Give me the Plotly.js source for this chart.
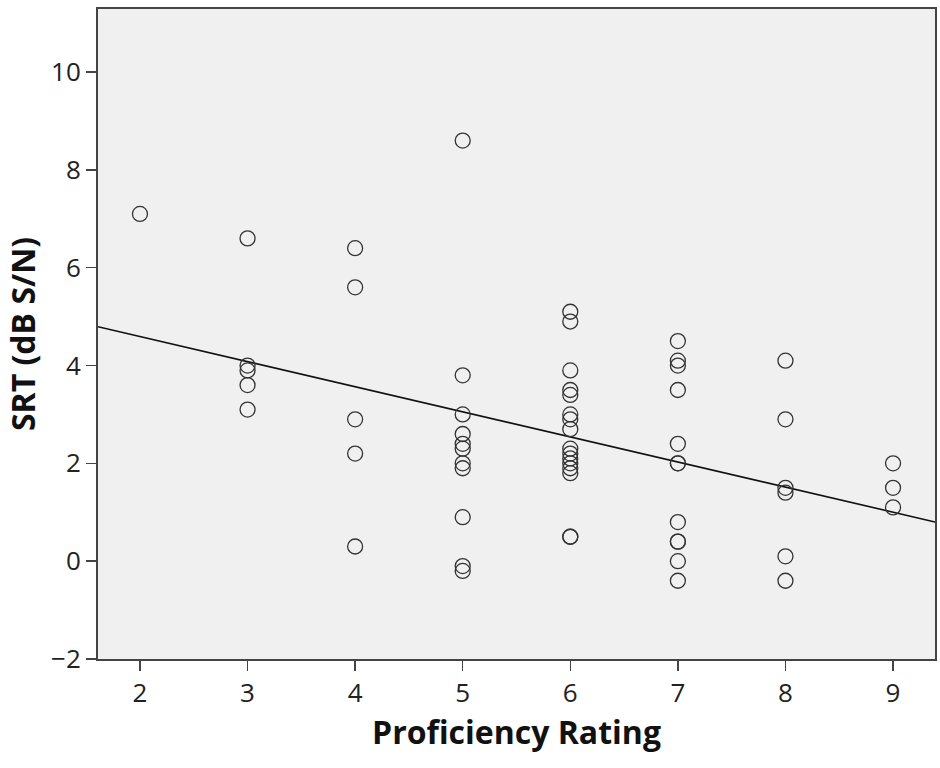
<!DOCTYPE html>
<html>
<head>
<meta charset="utf-8">
<script src="https://cdn.plot.ly/plotly-3.0.1.min.js"></script>
<style>
  html, body { margin: 0; padding: 0; background: #ffffff; }
  #chart { width: 940px; height: 768px; }
</style>
</head>
<body>
<div id="chart"></div>
<script>
// Proficiency rating (x) and SRT in dB S/N (y), one entry per participant
const proficiency = [
  2,
  3, 3, 3, 3, 3,
  4, 4, 4, 4, 4,
  5, 5, 5, 5, 5, 5, 5, 5, 5, 5, 5,
  6, 6, 6, 6, 6, 6, 6, 6, 6, 6, 6, 6, 6, 6, 6, 6,
  7, 7, 7, 7, 7, 7, 7, 7, 7, 7, 7, 7,
  8, 8, 8, 8, 8, 8,
  9, 9, 9
];
const srt = [
  7.1,
  6.6, 4.0, 3.9, 3.6, 3.1,
  6.4, 5.6, 2.9, 2.2, 0.3,
  8.6, 3.8, 3.0, 2.6, 2.4, 2.3, 2.0, 1.9, 0.9, -0.1, -0.2,
  5.1, 4.9, 3.9, 3.5, 3.4, 3.0, 2.9, 2.7, 2.3, 2.2, 2.1, 2.0, 1.9, 1.8, 0.5, 0.5,
  4.5, 4.1, 4.0, 3.5, 2.4, 2.0, 2.0, 0.8, 0.4, 0.4, 0.0, -0.4,
  4.1, 2.9, 1.5, 1.4, 0.1, -0.4,
  2.0, 1.5, 1.1
];
const xTickVals = [2, 3, 4, 5, 6, 7, 8, 9];
const yTickVals = [-2, 0, 2, 4, 6, 8, 10];
const xRange = [1.61, 9.39];
const yRange = [-2, 11.29];

// Least-squares fit line computed from the data
const n = proficiency.length;
const mx = proficiency.reduce((a, b) => a + b, 0) / n;
const my = srt.reduce((a, b) => a + b, 0) / n;
let sxy = 0, sxx = 0;
for (let i = 0; i < n; i++) {
  sxy += (proficiency[i] - mx) * (srt[i] - my);
  sxx += (proficiency[i] - mx) * (proficiency[i] - mx);
}
const slope = sxy / sxx;
const intercept = my - slope * mx;
const fitX = xRange.slice();
const fitY = fitX.map(v => intercept + slope * v);

const FONT = '"Open Sans", "DejaVu Sans", sans-serif';

const traces = [
  {
    type: 'scatter',
    mode: 'lines',
    x: fitX,
    y: fitY,
    line: { color: '#111111', width: 1.6 },
    hoverinfo: 'skip',
    showlegend: false
  },
  {
    type: 'scatter',
    mode: 'markers',
    x: proficiency,
    y: srt,
    marker: {
      symbol: 'circle-open',
      size: 15,
      color: '#333333',
      line: { color: '#333333', width: 1.3 }
    },
    showlegend: false
  }
];

const layout = {
  width: 940,
  height: 768,
  margin: { l: 98, r: 5, t: 9, b: 109 },
  paper_bgcolor: '#ffffff',
  plot_bgcolor: '#f0f0f0',
  font: { family: FONT, color: '#222222' },
  showlegend: false,
  xaxis: {
    range: xRange,
    tickmode: 'array',
    tickvals: xTickVals,
    ticks: 'outside',
    ticklen: 10,
    tickwidth: 1.5,
    tickcolor: '#444444',
    showgrid: false,
    zeroline: false,
    showline: true,
    mirror: true,
    linecolor: '#444444',
    linewidth: 2,
    tickfont: { family: FONT, size: 26, color: '#222222' },
    title: {
      text: 'Proficiency Rating',
      font: { family: FONT, size: 32, color: '#111111', weight: 'bold' },
      standoff: 10
    }
  },
  yaxis: {
    range: yRange,
    tickmode: 'array',
    tickvals: yTickVals,
    ticks: 'outside',
    ticklen: 10,
    tickwidth: 1.5,
    tickcolor: '#444444',
    showgrid: false,
    zeroline: false,
    showline: true,
    mirror: true,
    linecolor: '#444444',
    linewidth: 2,
    tickfont: { family: FONT, size: 26, color: '#222222' },
    title: {
      text: 'SRT (dB S/N)',
      font: { family: FONT, size: 32, color: '#111111', weight: 'bold' },
      standoff: 6
    }
  }
};

Plotly.newPlot('chart', traces, layout, { displayModeBar: false, staticPlot: true });
</script>
</body>
</html>
